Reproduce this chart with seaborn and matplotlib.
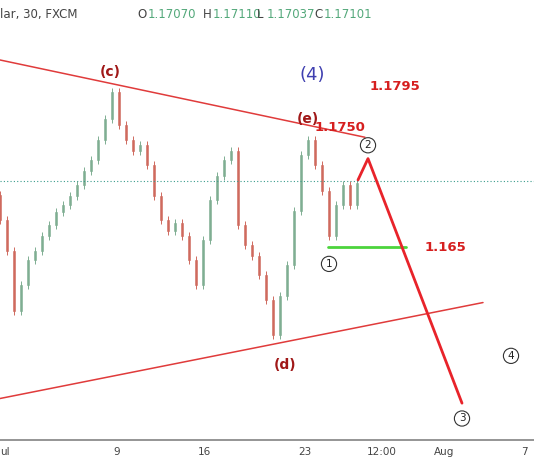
import seaborn as sns
import matplotlib.pyplot as plt
import numpy as np

# 30 min EURUSD style candles (closes), one per 0.35 day
closes = [1.1681, 1.1658, 1.1613, 1.1632, 1.1651, 1.1658, 1.1669, 1.1677, 1.1687, 1.1692,
          1.1699, 1.1707, 1.1718, 1.1726, 1.1741, 1.1757, 1.1777, 1.1752, 1.1741, 1.1733,
          1.1737, 1.1722, 1.1699, 1.1681, 1.1673, 1.1679, 1.1669, 1.1651, 1.1632, 1.1666,
          1.1696, 1.1714, 1.1726, 1.1733, 1.1677, 1.1662, 1.1654, 1.1640, 1.1621, 1.1595,
          1.1624, 1.1647, 1.1688, 1.1730, 1.1741, 1.1722, 1.1703, 1.1669, 1.1692, 1.1707,
          1.1692, 1.1709]
first_open = 1.1700
step = 0.35

tick_pos = [0.25, 5.85, 10.2, 15.25, 19.1, 22.2, 26.2]
tick_labels = ["ul", "9", "16", "23", "12:00", "Aug", "7"]

upper_x, upper_y = [0, 18.25], [1.1801, 1.1743]
lower_x, lower_y = [0, 24.15], [1.1547, 1.1619]
green_x, green_y = [16.4, 20.3], [1.1661, 1.1661]
path_x, path_y = [17.9, 18.4, 23.1], [1.1711, 1.1727, 1.15435]

sns.set_theme(style="white")
plt.rcParams['font.family'] = ['DejaVu Sans']

fig = plt.figure(figsize=(5.34, 4.62), dpi=100)
ax = fig.add_axes([0, 0.048, 1, 0.952])

opens = [first_open] + closes[:-1]
x = np.arange(len(closes)) * step
up_c, dn_c = "#7fae92", "#cf6a5e"
for xi, o, c in zip(x, opens, closes):
    col = up_c if c >= o else dn_c
    ax.vlines(xi, min(o, c) - 0.0003, max(o, c) + 0.0003, color=col, lw=0.7)
    ax.bar(xi, max(abs(c - o), 0.00008), bottom=min(o, c), width=0.1,
           color=col, edgecolor=col, lw=0.4)

ax.axhline(1.1710, color="#3a9b8c", ls=(0, (1, 2)), lw=0.8)
ax.plot(upper_x, upper_y, color="#e03b3b", lw=1.1)
ax.plot(lower_x, lower_y, color="#e03b3b", lw=1.1)
ax.plot(green_x, green_y, color="#4cd43c", lw=2)
ax.plot(path_x, path_y, color="#e8232a", lw=2)

dr = "#a01818"
ax.text(5.5, 1.1792, "(c)", color=dr, fontsize=10, fontweight="bold", ha="center", va="center")
ax.text(15.6, 1.1790, "(4)", color="#3f3fb0", fontsize=13, ha="center", va="center")
ax.text(19.75, 1.1781, "1.1795", color="#d61f1f", fontsize=9.5, fontweight="bold", ha="center", va="center")
ax.text(15.4, 1.1757, "(e)", color=dr, fontsize=10, fontweight="bold", ha="center", va="center")
ax.text(17.0, 1.1750, "1.1750", color="#d61f1f", fontsize=9.5, fontweight="bold", ha="center", va="center")
ax.text(22.25, 1.1660, "1.165", color="#d61f1f", fontsize=9.5, fontweight="bold", ha="center", va="center")
ax.text(14.25, 1.1572, "(d)", color=dr, fontsize=10, fontweight="bold", ha="center", va="center")
for tx, ty, lab in [(18.4, 1.1737, "2"), (16.45, 1.1648, "1"), (25.55, 1.1579, "4"), (23.1, 1.1532, "3")]:
    ax.text(tx, ty, lab, fontsize=7.5, ha="center", va="center", color="#222222",
            bbox=dict(boxstyle="circle,pad=0.25", fc="white", ec="#333333", lw=0.8))

hy = 0.966
ax.text(0.0, hy, "lar, 30, FXCM", transform=ax.transAxes, fontsize=8.5, color="#444444", va="center")
vals = [("O", "1.17070", 0.257), ("H", "1.17110", 0.38), ("L", "1.17037", 0.481), ("C", "1.17101", 0.588)]
for k, v, px in vals:
    ax.text(px, hy, k, transform=ax.transAxes, fontsize=8.5, color="#444444", va="center")
    ax.text(px + 0.019, hy, v, transform=ax.transAxes, fontsize=8.5, color="#53a87a", va="center")

ax.set_xlim(0, 26.7)
ax.set_ylim(1.1516, 1.1846)
ax.set_yticks([])
ax.set_xticks(tick_pos)
ax.set_xticklabels(tick_labels, fontsize=7.5, color="#444444")
ax.tick_params(axis="x", length=3, pad=2, color="#888888")
for s in ["top", "right", "left"]:
    ax.spines[s].set_visible(False)
ax.spines["bottom"].set_color("#888888")

fig.savefig("out.png", dpi=100)
